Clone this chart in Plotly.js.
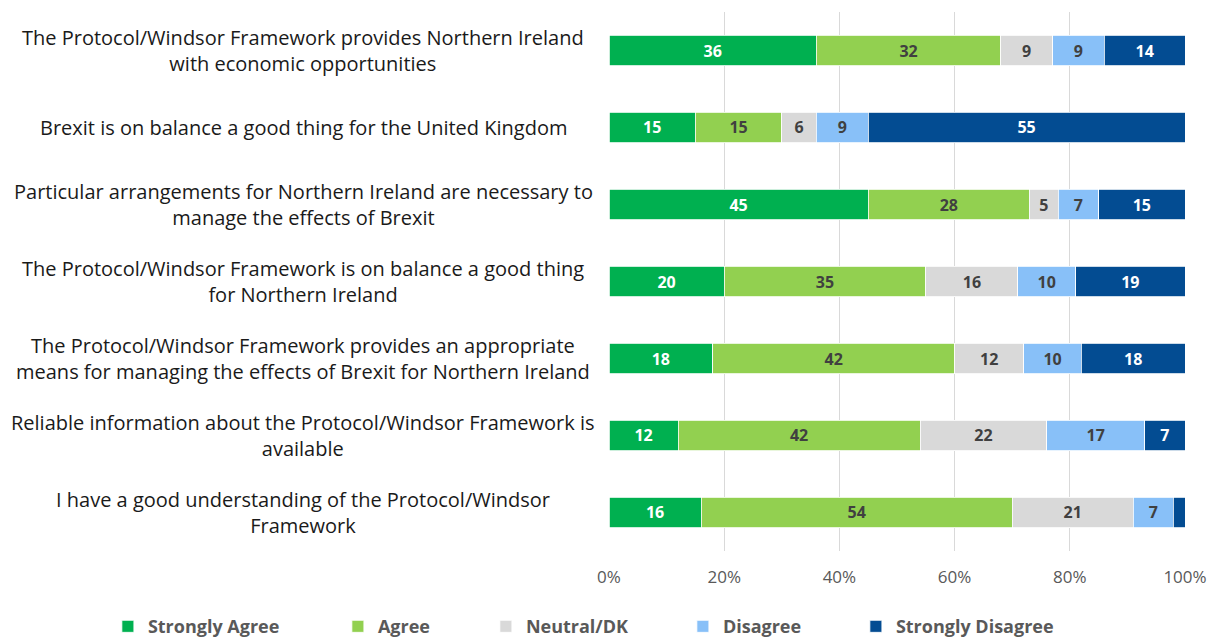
<!DOCTYPE html>
<html>
<head>
<meta charset="utf-8">
<script src="https://cdn.plot.ly/plotly-3.0.1.min.js"></script>
<style>html,body{margin:0;padding:0;background:#fff;}#chart{width:1218px;height:641px;}</style>
</head>
<body>
<div id="chart"></div>
<script>
const categories = [
  "The Protocol/Windsor Framework provides Northern Ireland<br>with economic opportunities",
  "Brexit is on balance a good thing for the United Kingdom",
  "Particular arrangements for Northern Ireland are necessary to<br>manage the effects of Brexit",
  "The Protocol/Windsor Framework is on balance a good thing<br>for Northern Ireland",
  "The Protocol/Windsor Framework provides an appropriate<br>means for managing the effects of Brexit for Northern Ireland",
  "Reliable information about the Protocol/Windsor Framework is<br>available",
  "I have a good understanding of the Protocol/Windsor<br>Framework"
];
const seriesNames = ["Strongly Agree", "Agree", "Neutral/DK", "Disagree", "Strongly Disagree"];
const stronglyAgree    = [36, 15, 45, 20, 18, 12, 16];
const agree            = [32, 15, 28, 35, 42, 42, 54];
const neutralDK        = [9, 6, 5, 16, 12, 22, 21];
const disagree         = [9, 9, 7, 10, 10, 17, 7];
const stronglyDisagree = [14, 55, 15, 19, 18, 7, 2];
const tickValues = [0, 20, 40, 60, 80, 100];
const tickLabels = ["0%", "20%", "40%", "60%", "80%", "100%"];

const seriesValues = [stronglyAgree, agree, neutralDK, disagree, stronglyDisagree];
const colors = ["#00B050", "#92D050", "#D9D9D9", "#88C0F8", "#034C92"];
const textColors = ["#FFFFFF", "#404040", "#404040", "#404040", "#FFFFFF"];
const legendWidths = [185, 103, 152, 128, 170];

const traces = seriesValues.map((vals, i) => ({
  type: "bar",
  orientation: "h",
  name: seriesNames[i],
  x: vals,
  y: categories,
  marker: {color: colors[i], line: {color: "#FFFFFF", width: 0.8}},
  text: vals.map(v => v >= 3 ? String(v) : ""),
  textposition: "inside",
  insidetextanchor: "middle",
  textangle: 0,
  textfont: {family: "Open Sans, sans-serif", size: 16, color: textColors[i], weight: "bold"},
  hoverinfo: "x+name",
  legendwidth: legendWidths[i],
  cliponaxis: false
}));

const annotations = categories.map(c => ({
  xref: "paper", yref: "y",
  x: -0.531, y: c,
  xanchor: "center", yanchor: "middle",
  text: c, showarrow: false, align: "center",
  font: {family: "Open Sans, sans-serif", size: 20, color: "#1A1A1A"}
}));

const layout = {
  width: 1218, height: 641,
  margin: {l: 609, r: 33, t: 12, b: 90, autoexpand: false},
  barmode: "stack",
  bargap: 0.61,
  paper_bgcolor: "#FFFFFF",
  plot_bgcolor: "#FFFFFF",
  font: {family: "Open Sans, sans-serif", color: "#595959"},
  xaxis: {
    range: [0, 100],
    tickvals: tickValues,
    ticktext: tickLabels,
    showgrid: true,
    gridcolor: "#D9D9D9",
    gridwidth: 1,
    zeroline: false,
    showline: false,
    ticks: "",
    ticklabelstandoff: 14,
    tickfont: {family: "Open Sans, sans-serif", size: 17, color: "#595959"},
    fixedrange: true
  },
  yaxis: {
    autorange: "reversed",
    showticklabels: false,
    showgrid: false,
    zeroline: false,
    ticks: "",
    fixedrange: true
  },
  showlegend: true,
  legend: {
    orientation: "h",
    x: -0.87, xanchor: "left",
    y: -0.106, yanchor: "top",
    traceorder: "normal",
    font: {family: "Open Sans, sans-serif", size: 18, color: "#595959", weight: "bold"},
    itemwidth: 30
  },
  annotations: annotations
};

Plotly.newPlot("chart", traces, layout, {displayModeBar: false, staticPlot: true});
</script>
</body>
</html>
